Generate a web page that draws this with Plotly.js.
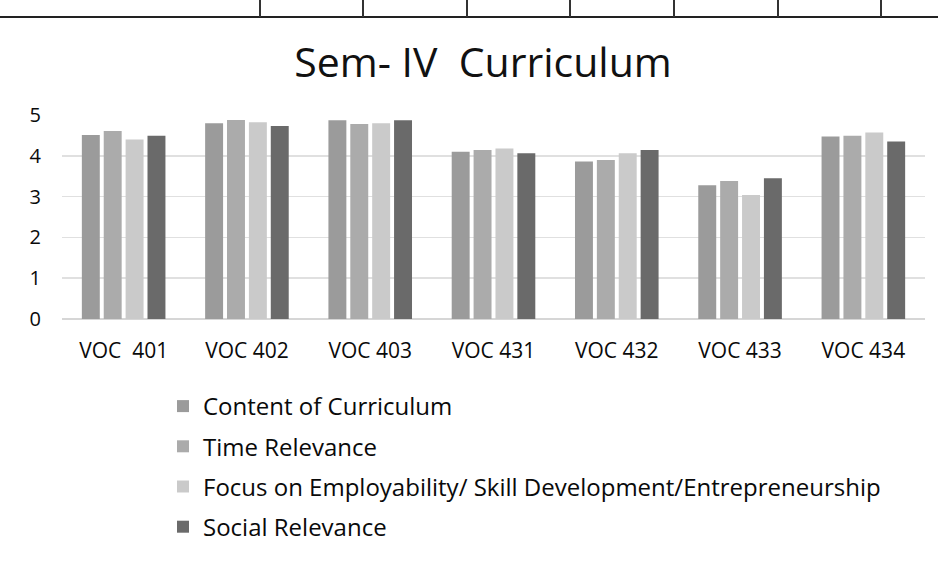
<!DOCTYPE html>
<html>
<head>
<meta charset="utf-8">
<script src="https://cdn.plot.ly/plotly-3.0.1.min.js"></script>
<style>
  html, body { margin: 0; padding: 0; background: #fff; }
  #wrap { position: relative; width: 938px; height: 561px; overflow: hidden; }
  #chart { position: absolute; left: 0; top: 0; width: 938px; height: 561px; }
  .hl { position: absolute; left: 0; top: 16px; width: 938px; height: 2px; background: #222; }
  .vl { position: absolute; top: 0; width: 1.5px; height: 17px; background: #333; }
</style>
</head>
<body>
<div id="wrap">
  <div id="chart"></div>
  <div class="hl"></div>
  <div class="vl" style="left:259px"></div>
  <div class="vl" style="left:362px"></div>
  <div class="vl" style="left:466px"></div>
  <div class="vl" style="left:569px"></div>
  <div class="vl" style="left:673px"></div>
  <div class="vl" style="left:777px"></div>
  <div class="vl" style="left:880px"></div>
</div>
<script>
const categories = ["VOC\u00a0\u00a0401", "VOC 402", "VOC 403", "VOC 431", "VOC 432", "VOC 433", "VOC 434"];
const contentOfCurriculum = [4.51, 4.80, 4.87, 4.10, 3.86, 3.28, 4.47];
const timeRelevance      = [4.61, 4.88, 4.78, 4.14, 3.90, 3.38, 4.49];
const focusEmployability = [4.40, 4.82, 4.80, 4.18, 4.06, 3.04, 4.57];
const socialRelevance    = [4.49, 4.73, 4.87, 4.06, 4.14, 3.45, 4.35];
const seriesNames = [
  "Content of Curriculum",
  "Time Relevance",
  "Focus on Employability/ Skill Development/Entrepreneurship",
  "Social Relevance"
];
const seriesColors = ["#9b9b9b", "#ababab", "#cacaca", "#6a6a6a"];
const seriesValues = [contentOfCurriculum, timeRelevance, focusEmployability, socialRelevance];

const FONT = "Open Sans, Noto Sans, sans-serif";

const traces = seriesValues.map((vals, i) => ({
  type: "bar",
  name: seriesNames[i],
  x: categories,
  y: vals,
  legendgroup: "g" + i,
  marker: { color: seriesColors[i], line: { width: 0 } },
  hoverinfo: "x+y+name"
}));

const layout = {
  width: 938,
  height: 561,
  paper_bgcolor: "#ffffff",
  plot_bgcolor: "#ffffff",
  margin: { l: 62, r: 13, t: 115, b: 242, autoexpand: false },
  title: {
    text: "Sem- IV\u00a0\u00a0Curriculum",
    font: { family: FONT, size: 41, color: "#111" },
    x: 483 / 938,
    xanchor: "center",
    y: 1 - 63 / 561,
    yanchor: "middle"
  },
  barmode: "group",
  bargap: 0.29,
  bargroupgap: 0.18,
  xaxis: {
    type: "category",
    showgrid: false,
    showline: false,
    zeroline: false,
    ticks: "",
    tickangle: 0,
    automargin: false,
    ticklabelstandoff: 17,
    tickfont: { family: FONT, size: 21, color: "#0a0a0a" }
  },
  yaxis: {
    range: [0, 5],
    tickvals: [0, 1, 2, 3, 4, 5],
    showgrid: true,
    gridcolor: "#e0e0e0",
    gridwidth: 1.5,
    zeroline: true,
    zerolinecolor: "#d6d6d6",
    zerolinewidth: 1.5,
    showline: false,
    automargin: false,
    ticks: "",
    ticklabelstandoff: 20,
    tickfont: { family: FONT, size: 20, color: "#0a0a0a" }
  },
  showlegend: true,
  legend: {
    orientation: "v",
    traceorder: "grouped",
    tracegroupgap: 6,
    xref: "container",
    yref: "container",
    x: 163 / 938,
    xanchor: "left",
    y: 1 - 384 / 561,
    yanchor: "top",
    font: { family: FONT, size: 24, color: "#0a0a0a" },
    itemwidth: 30,
    bgcolor: "rgba(0,0,0,0)"
  }
};

Plotly.newPlot("chart", traces, layout, { displayModeBar: false, staticPlot: true });
</script>
</body>
</html>
